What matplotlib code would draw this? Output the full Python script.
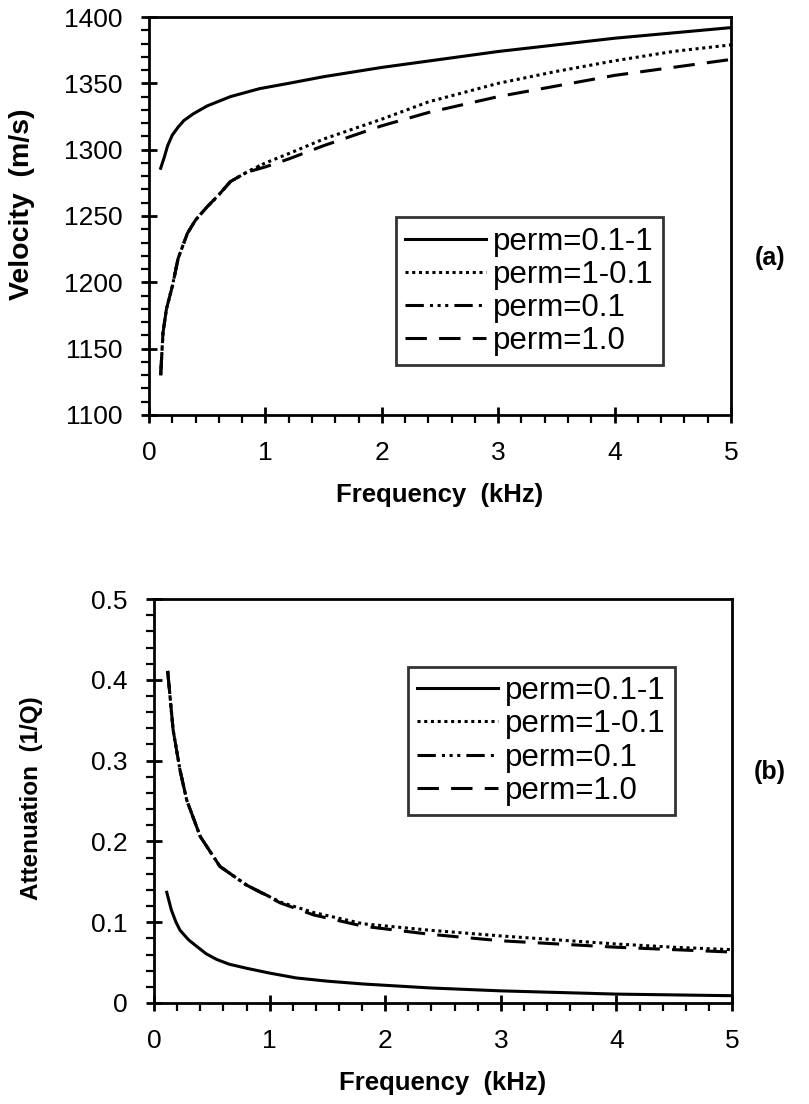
import matplotlib
matplotlib.use("Agg")
import matplotlib.pyplot as plt
from matplotlib.ticker import MultipleLocator

plt.rcParams['font.family'] = ['Liberation Sans', 'DejaVu Sans']

# ---- (a) phase velocity vs frequency ----
f_solid_v = [0.10, 0.13, 0.16, 0.20, 0.25, 0.30, 0.38, 0.50, 0.70, 0.95, 1.2, 1.5, 2.0, 2.5, 3.0, 3.5, 4.0, 4.5, 5.0]
v_solid = [1286, 1294, 1303, 1311, 1317, 1322, 1327, 1333, 1340, 1346, 1350, 1355, 1362, 1368, 1374, 1379, 1384, 1388, 1392]

f_low_v = [0.10, 0.12, 0.15, 0.20, 0.25, 0.33, 0.40, 0.50, 0.60, 0.70, 0.84, 1.0, 1.2, 1.5, 2.0, 2.4, 3.0, 3.5, 4.0, 4.5, 5.0]
v_dotted = [1130, 1162, 1180, 1197, 1218, 1237, 1247, 1257, 1266, 1276, 1283, 1290, 1297, 1308, 1323, 1336, 1350, 1359, 1367, 1374, 1379]
v_dashed = [1130, 1162, 1180, 1197, 1218, 1237, 1247, 1257, 1266, 1276, 1283, 1287, 1293, 1303, 1318, 1328, 1340, 1348, 1356, 1362, 1368]

f_dd_v = [0.10, 0.12, 0.15, 0.20, 0.25, 0.33, 0.40, 0.50, 0.60, 0.70, 0.84, 0.95]
v_dashdot = [1130, 1162, 1180, 1197, 1218, 1237, 1247, 1257, 1266, 1276, 1283, 1288]

# ---- (b) attenuation vs frequency ----
f_solid_q = [0.11, 0.15, 0.19, 0.225, 0.30, 0.37, 0.45, 0.54, 0.65, 0.80, 1.0, 1.23, 1.5, 1.81, 2.39, 3.0, 3.5, 4.0, 4.5, 5.0]
q_solid = [0.137, 0.115, 0.100, 0.090, 0.078, 0.070, 0.061, 0.054, 0.048, 0.043, 0.037, 0.031, 0.027, 0.0235, 0.0186, 0.015, 0.013, 0.011, 0.010, 0.009]

f_up_q = [0.118, 0.165, 0.225, 0.283, 0.40, 0.57, 0.80, 1.09, 1.38, 1.81, 2.39, 3.0, 3.5, 4.0, 4.5, 5.0]
q_dotted = [0.411, 0.338, 0.288, 0.251, 0.206, 0.169, 0.146, 0.125, 0.112, 0.098, 0.090, 0.083, 0.078, 0.073, 0.069, 0.066]
q_dashed = [0.411, 0.338, 0.288, 0.251, 0.206, 0.169, 0.146, 0.124, 0.109, 0.095, 0.085, 0.077, 0.073, 0.069, 0.066, 0.063]

f_dd_q = [0.118, 0.165, 0.225, 0.283, 0.40, 0.57, 0.80, 1.09]
q_dashdot = [0.411, 0.338, 0.288, 0.251, 0.206, 0.169, 0.146, 0.125]

labels = ['perm=0.1-1', 'perm=1-0.1', 'perm=0.1', 'perm=1.0']
styles = ['-', (0, (1, 1.2)), (0, (6, 2, 1, 1.5, 1, 1.5, 1, 2)), (0, (7, 4))]

fig = plt.figure(figsize=(8.09, 11.04), dpi=100)
ax1 = fig.add_axes([0.1842, 0.6241, 0.7194, 0.3605])
ax2 = fig.add_axes([0.1904, 0.0915, 0.7144, 0.3659])

lw = 2.2
ax1.plot(f_solid_v, v_solid, color='black', lw=lw, ls=styles[0], label=labels[0])
ax1.plot(f_low_v, v_dotted, color='black', lw=lw, ls=styles[1], label=labels[1])
ax1.plot(f_dd_v, v_dashdot, color='black', lw=lw, ls=styles[2], label=labels[2])
ax1.plot(f_low_v, v_dashed, color='black', lw=lw, ls=styles[3], label=labels[3])

ax2.plot(f_solid_q, q_solid, color='black', lw=lw, ls=styles[0], label=labels[0])
ax2.plot(f_up_q, q_dotted, color='black', lw=lw, ls=styles[1], label=labels[1])
ax2.plot(f_dd_q, q_dashdot, color='black', lw=lw, ls=styles[2], label=labels[2])
ax2.plot(f_up_q, q_dashed, color='black', lw=lw, ls=styles[3], label=labels[3])

ax1.set_xlim(0, 5)
ax1.set_ylim(1100, 1400)
ax1.yaxis.set_major_locator(MultipleLocator(50))
ax1.yaxis.set_minor_locator(MultipleLocator(10))
ax2.set_xlim(0, 5)
ax2.set_ylim(0, 0.5)
ax2.set_yticks([0, 0.1, 0.2, 0.3, 0.4, 0.5])
ax2.set_yticklabels(['0', '0.1', '0.2', '0.3', '0.4', '0.5'])
ax2.yaxis.set_minor_locator(MultipleLocator(0.02))

for ax in (ax1, ax2):
    ax.xaxis.set_major_locator(MultipleLocator(1))
    ax.xaxis.set_minor_locator(MultipleLocator(0.2))
    for s in ax.spines.values():
        s.set_linewidth(2.0)
    ax.tick_params(which='major', direction='inout', length=12, width=2.0, labelsize=19, pad=13)
    ax.tick_params(which='minor', direction='out', length=6, width=1.6)
    ax.set_xlabel('Frequency  (kHz)', fontsize=18.5, fontweight='bold', labelpad=13)

ax1.set_ylabel('Velocity  (m/s)', fontsize=20.5, fontweight='bold')
ax2.set_ylabel('Attenuation  (1/Q)', fontsize=17.5, fontweight='bold')
ax1.yaxis.set_label_coords(-0.196, 0.53)
ax2.yaxis.set_label_coords(-0.192, 0.507)

leg_kw = dict(fontsize=22.5, frameon=True, fancybox=False, edgecolor='black',
              handlelength=2.6, handletextpad=0.2, labelspacing=0.1,
              borderpad=0.3, borderaxespad=0, loc='upper left')
l1 = ax1.legend(bbox_to_anchor=(0.424, 0.497), **leg_kw)
l2 = ax2.legend(bbox_to_anchor=(0.439, 0.832), **leg_kw)
for lg in (l1, l2):
    lg.get_frame().set_linewidth(2.0)

fig.text(770 / 809, 1 - 258 / 1104, '(a)', fontsize=18, fontweight='bold', ha='center', va='center')
fig.text(770 / 809, 1 - 772 / 1104, '(b)', fontsize=18, fontweight='bold', ha='center', va='center')

fig.savefig('out.png', dpi=100)
